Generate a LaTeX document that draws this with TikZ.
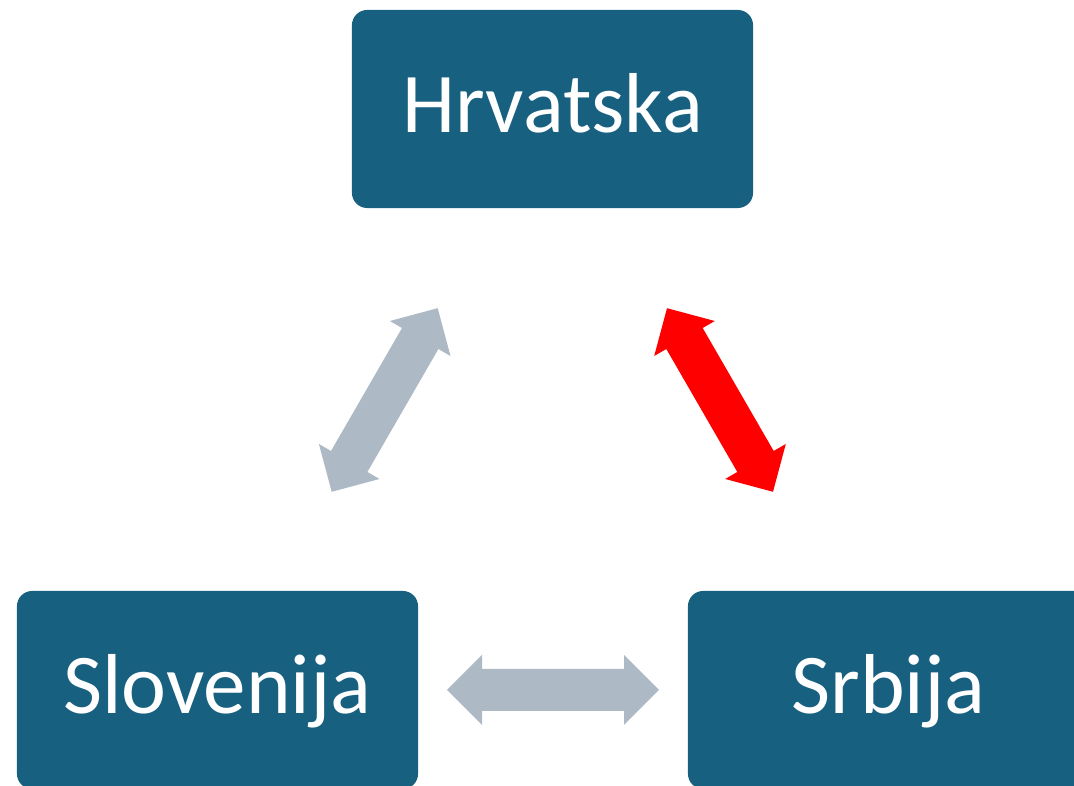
\documentclass[tikz,border=0pt]{standalone}
\usepackage{fontspec}
\setmainfont{Carlito}
\usetikzlibrary{positioning}

\definecolor{boxblue}{HTML}{17607F}
\definecolor{linkgray}{HTML}{ADB9C5}
\definecolor{linkred}{HTML}{FF0000}

\begin{document}
\begin{tikzpicture}[
    x=0.025cm, y=0.025cm,
    country/.style={fill=boxblue, rounded corners=0.38cm, minimum width=10.025cm,
        minimum height=4.95cm, text=white, text height=1.5cm, text depth=0.3cm,
        font=\fontsize{60.5}{72}\selectfont},
    link/.style={fill=linkgray},
    hot/.style={fill=linkred},
    pics/twoway/.style={code={
        \path[pic actions] (-106,0) -- (-71,35) -- (-71,21) -- (71,21) -- (71,35)
            -- (106,0) -- (71,-35) -- (71,-21) -- (-71,-21) -- (-71,-35) -- cycle;
    }}
]

% Page frame
\useasboundingbox (0,0) rectangle (1074,786);

% Countries
\node[country] (hrvatska) at (552.5,677) {Hrvatska};
\node[country] (slovenija) at (217.5,96) {Slovenija};
\node[country] (srbija) at (888.5,96) {Srbija};

% Two-way links
\pic[link] (hrslo) at (384.7,386) [rotate=60] {twoway};
\pic[hot] (hrsrb) at (720,386) [rotate=120] {twoway};
\pic[link] (slosrb) at (553,96) {twoway};

\end{tikzpicture}
\end{document}
